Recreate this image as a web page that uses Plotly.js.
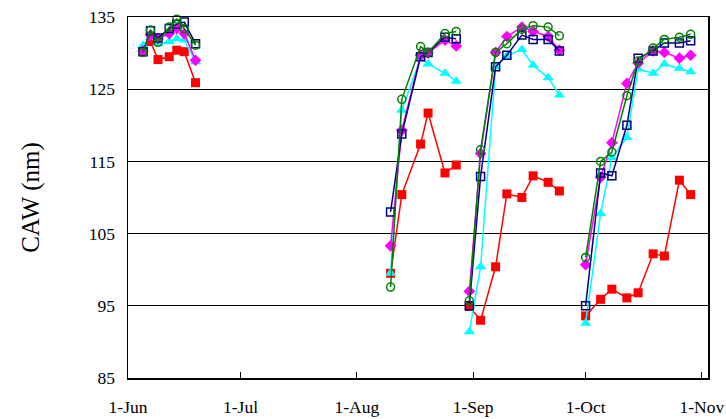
<!DOCTYPE html>
<html>
<head>
<meta charset="utf-8">
<script src="https://cdn.plot.ly/plotly-3.0.1.min.js"></script>
<style>html,body{margin:0;padding:0;background:#fff;}#chart{width:726px;height:419px;}</style>
</head>
<body>
<div id="chart"></div>
<script>
// Sampling dates (null entries separate the four measurement periods)
const dates = [
  '2003-06-05','2003-06-07','2003-06-09','2003-06-12','2003-06-14','2003-06-16','2003-06-19',
  '2003-07-15',
  '2003-08-10','2003-08-13','2003-08-18','2003-08-20','2003-08-24 12:00','2003-08-27 12:00',
  '2003-08-29',
  '2003-08-31','2003-09-03','2003-09-07','2003-09-10','2003-09-14','2003-09-17','2003-09-21','2003-09-24',
  '2003-09-28',
  '2003-10-01','2003-10-05','2003-10-08','2003-10-12','2003-10-15','2003-10-19','2003-10-22','2003-10-26','2003-10-29'
];
const redVals = [130.2,131.6,129.1,129.5,130.4,130.2,125.9, null,
  99.5,110.4,117.4,121.7,113.4,114.5, null,
  94.9,93.0,100.4,110.5,110.0,113.0,112.1,110.9, null,
  93.6,95.9,97.3,96.1,96.8,102.2,101.9,112.4,110.4];
const cyanVals = [131.1,132.2,131.3,131.6,132.0,131.8,128.8, null,
  99.5,122.1,129.3,128.5,127.2,126.1, null,
  91.4,100.4,128.1,129.6,130.5,128.3,126.6,124.2, null,
  92.6,107.8,115.5,118.3,127.8,127.2,128.5,127.9,127.4];
const magentaVals = [130.3,132.5,132.0,132.7,133.4,132.7,129.0, null,
  103.3,119.3,129.7,130.0,131.8,131.0, null,
  97.0,116.1,130.1,132.3,133.6,133.0,132.3,130.4, null,
  100.7,112.8,117.6,125.8,128.6,130.3,130.1,129.3,129.7];
const navyVals = [130.2,133.1,132.1,133.4,134.0,134.3,131.3, null,
  108.0,118.8,129.5,130.1,132.2,132.0, null,
  95.0,112.9,128.1,129.7,132.5,131.9,131.9,130.3, null,
  95.0,113.4,113.0,120.0,129.3,130.3,131.4,131.4,131.7];
const greenVals = [130.1,133.2,131.5,133.6,134.7,133.4,131.1, null,
  97.6,123.6,130.9,130.1,132.7,133.0, null,
  95.7,116.6,130.1,131.3,133.3,133.8,133.6,132.4, null,
  101.7,115.0,116.3,124.1,128.9,130.7,131.9,132.2,132.6];

const xTickVals = ['2003-06-01','2003-07-01','2003-08-01','2003-09-01','2003-10-01','2003-11-01'];
const xTickText = ['1-Jun','1-Jul','1-Aug','1-Sep','1-Oct','1-Nov'];
const yTickVals = [85,95,105,115,125,135];

function tr(y, color, symbol, size, lineColor, lw) {
  return {
    x: dates, y: y, type: 'scatter', mode: 'lines+markers', connectgaps: false,
    line: {color: color, width: 1.5},
    marker: {symbol: symbol, size: size, color: color, line: {color: lineColor || color, width: lw || 0}},
    showlegend: false, cliponaxis: false
  };
}

const data = [
  tr(redVals, '#FF0000', 'square', 9),
  tr(cyanVals, '#00FFFF', 'triangle-up', 10),
  tr(magentaVals, '#FF00FF', 'diamond', 9),
  tr(navyVals, '#000080', 'square-open', 8, '#000080', 1.5),
  tr(greenVals, '#008000', 'circle-open', 8, '#008000', 1.5)
];

const font = {family: '"Liberation Serif", "Times New Roman", serif', color: '#000', size: 17.5};
const layout = {
  width: 726, height: 419,
  margin: {l: 128, r: 18, t: 17, b: 41},
  paper_bgcolor: '#fff', plot_bgcolor: '#fff',
  font: font,
  xaxis: {
    type: 'date', range: ['2003-06-01', '2003-11-02 15:00'],
    tickvals: xTickVals, ticktext: xTickText,
    ticks: 'inside', ticklen: 6, tickcolor: '#000', tickwidth: 1,
    showgrid: false, zeroline: false,
    showline: true, mirror: true, linecolor: '#000', linewidth: 1.5,
    ticklabelstandoff: 12, tickfont: font, automargin: false
  },
  yaxis: {
    range: [85, 135], tickvals: yTickVals,
    showgrid: true, gridcolor: '#000', gridwidth: 1,
    zeroline: false, ticks: '',
    showline: true, mirror: true, linecolor: '#000', linewidth: 1.5,
    ticklabelstandoff: 8, tickfont: font, automargin: false,
    title: {text: 'CAW (nm)', font: {family: font.family, size: 25, color: '#000'}, standoff: 42}
  }
};
Plotly.newPlot('chart', data, layout, {staticPlot: true, displayModeBar: false});
</script>
</body>
</html>
